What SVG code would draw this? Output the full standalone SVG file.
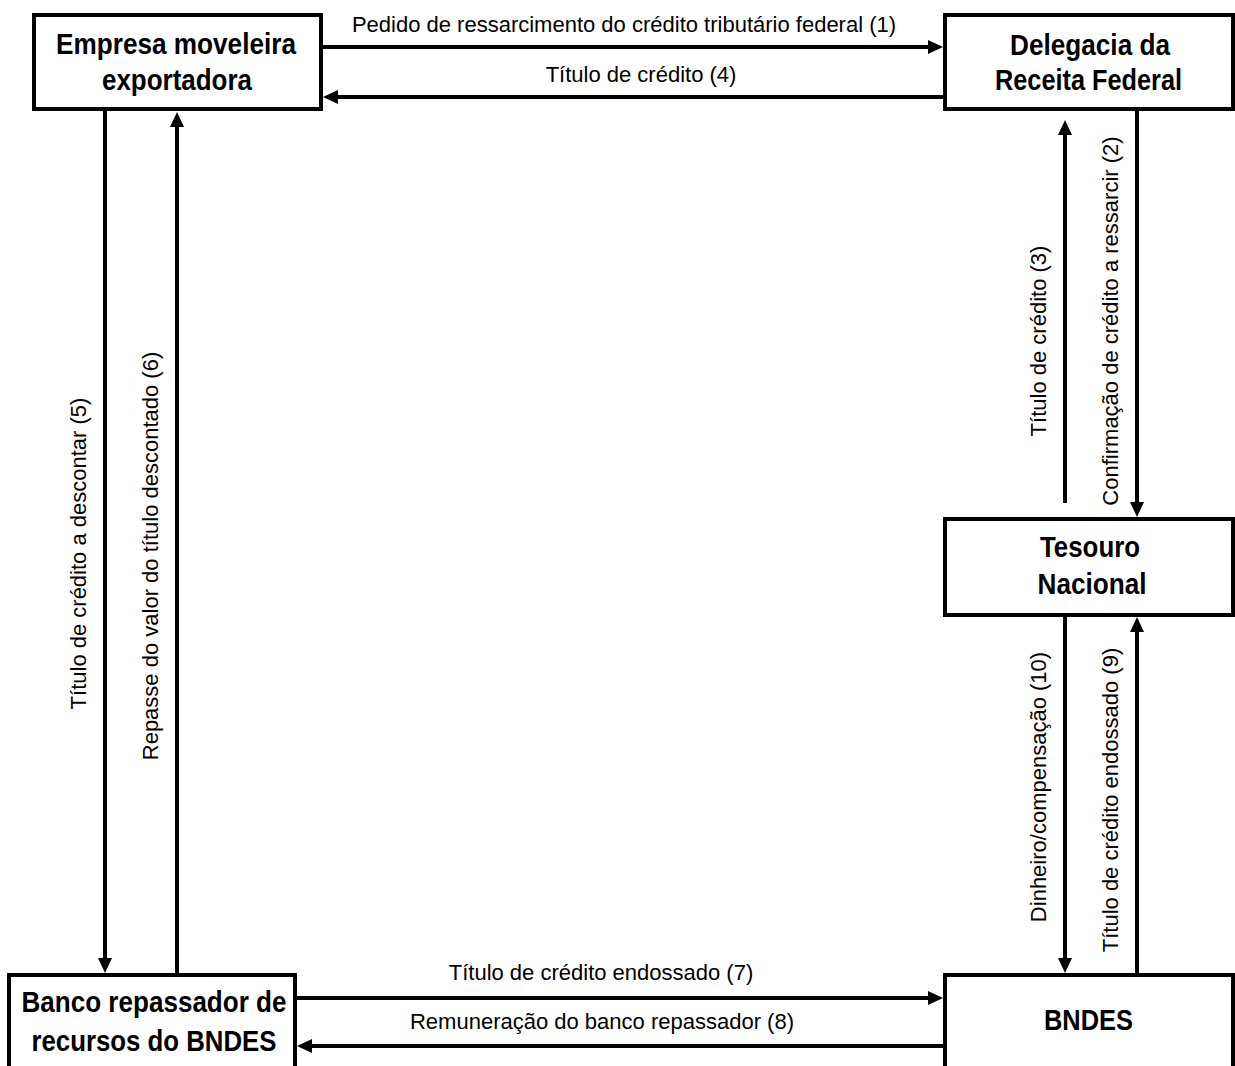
<svg xmlns="http://www.w3.org/2000/svg" width="1235" height="1066" viewBox="0 0 1235 1066">
<style>
.box{fill:#fff;stroke:#000;stroke-width:4}
.bt{font-family:"Liberation Sans",Arial,sans-serif;font-weight:bold;font-size:30px;fill:#000;text-anchor:middle}
.lb{font-family:"Liberation Sans",Arial,sans-serif;font-size:22px;fill:#000;text-anchor:middle}
.cn{fill:none;stroke:#000;stroke-width:4}
</style>
<defs>
<marker id="ah" markerUnits="userSpaceOnUse" markerWidth="16" markerHeight="15" refX="3" refY="7" orient="auto">
<path d="M0,0 L15,7 L0,14 z" fill="#000"/>
</marker>
</defs>
<rect width="1235" height="1066" fill="#fff"/>
<g id="connectors">
<path class="cn" d="M323,47 H931" marker-end="url(#ah)"/>
<path class="cn" d="M943,97 H335" marker-end="url(#ah)"/>
<path class="cn" d="M105,111 V961" marker-end="url(#ah)"/>
<path class="cn" d="M177,973 V124" marker-end="url(#ah)"/>
<path class="cn" d="M1065,503 V132" marker-end="url(#ah)"/>
<path class="cn" d="M1137,111 V505" marker-end="url(#ah)"/>
<path class="cn" d="M1065,617 V961" marker-end="url(#ah)"/>
<path class="cn" d="M1137,973 V629" marker-end="url(#ah)"/>
<path class="cn" d="M297,998 H931" marker-end="url(#ah)"/>
<path class="cn" d="M943,1046 H309" marker-end="url(#ah)"/>
<text class="lb" x="624" y="32">Pedido de ressarcimento do crédito tributário federal (1)</text>
<text class="lb" x="641" y="82">Título de crédito (4)</text>
<text class="lb" x="601" y="980">Título de crédito endossado (7)</text>
<text class="lb" x="602" y="1029">Remuneração do banco repassador (8)</text>
<text class="lb" transform="translate(86,553.5) rotate(-90)">Título de crédito a descontar (5)</text>
<text class="lb" transform="translate(158,556) rotate(-90)">Repasse do valor do título descontado (6)</text>
<text class="lb" transform="translate(1046,341) rotate(-90)">Título de crédito (3)</text>
<text class="lb" transform="translate(1118,321) rotate(-90)">Confirmação de crédito a ressarcir (2)</text>
<text class="lb" transform="translate(1046,787) rotate(-90)">Dinheiro/compensação (10)</text>
<text class="lb" transform="translate(1118,800) rotate(-90)">Título de crédito endossado (9)</text>
</g>
<g id="empresa">
<rect class="box" x="34" y="15" width="287" height="94"/>
<text class="bt" x="176" y="54" textLength="240" lengthAdjust="spacingAndGlyphs">Empresa moveleira</text>
<text class="bt" x="177" y="90" textLength="150" lengthAdjust="spacingAndGlyphs">exportadora</text>
</g>
<g id="delegacia">
<rect class="box" x="945" y="15" width="288" height="94"/>
<text class="bt" x="1090" y="55" textLength="160" lengthAdjust="spacingAndGlyphs">Delegacia da</text>
<text class="bt" x="1088.5" y="90" textLength="187" lengthAdjust="spacingAndGlyphs">Receita Federal</text>
</g>
<g id="tesouro">
<rect class="box" x="945" y="519" width="288" height="96"/>
<text class="bt" x="1090" y="557" textLength="100" lengthAdjust="spacingAndGlyphs">Tesouro</text>
<text class="bt" x="1092" y="594" textLength="109" lengthAdjust="spacingAndGlyphs">Nacional</text>
</g>
<g id="banco">
<rect class="box" x="9" y="975" width="286" height="110"/>
<text class="bt" x="154" y="1012" textLength="265" lengthAdjust="spacingAndGlyphs">Banco repassador de</text>
<text class="bt" x="154" y="1051" textLength="245" lengthAdjust="spacingAndGlyphs">recursos do BNDES</text>
</g>
<g id="bndes">
<rect class="box" x="945" y="975" width="288" height="110"/>
<text class="bt" x="1088.5" y="1030" textLength="89" lengthAdjust="spacingAndGlyphs">BNDES</text>
</g>
</svg>
